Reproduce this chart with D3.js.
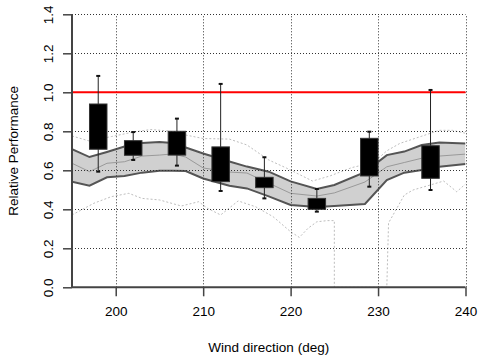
<!DOCTYPE html>
<html>
<head>
<meta charset="utf-8">
<script src="https://cdn.jsdelivr.net/npm/d3@7"></script>
<style>
	html, body { margin: 0; padding: 0; background: #fff; }
	svg { display: block; font-family: "Liberation Sans", Arial, sans-serif; }
</style>
</head>
<body>
<svg id="chart" width="480" height="360"></svg>
<script>
// ------------------------
// Data
// ------------------------
const xTicks = [ 200, 210, 220, 230, 240 ];
const yTicks = [ 0, 0.2, 0.4, 0.6, 0.8, 1.0, 1.2, 1.4 ];

// grey band: upper / lower quantile lines and the middle line
const bandDeg = [ 195, 197, 199, 201, 203, 205, 206.5, 208, 210, 213, 215, 217.5, 220, 223, 225, 228.5, 231, 233, 235, 237, 240 ];
const bandUpper = [ 0.708, 0.668, 0.694, 0.722, 0.740, 0.745, 0.740, 0.717, 0.686, 0.645, 0.619, 0.593, 0.543, 0.504, 0.525, 0.591, 0.678, 0.696, 0.730, 0.742, 0.737 ];
const bandLower = [ 0.542, 0.521, 0.564, 0.571, 0.588, 0.598, 0.598, 0.596, 0.558, 0.521, 0.507, 0.466, 0.422, 0.412, 0.417, 0.427, 0.550, 0.588, 0.602, 0.618, 0.632 ];
const bandMid = [ 0.636, 0.593, 0.636, 0.644, 0.673, 0.678, 0.684, 0.668, 0.612, 0.591, 0.586, 0.534, 0.482, 0.468, 0.484, 0.540, 0.618, 0.640, 0.662, 0.673, 0.683 ];

// dotted envelope (max / min)
const maxDeg = [ 195, 197, 199.5, 202, 204, 206, 208, 210, 213, 215, 217.5, 219.5, 222.5, 224.5, 227, 229.5, 231, 232.5, 235, 237, 238.5, 240 ];
const maxVal = [ 0.776, 0.75, 0.773, 0.796, 0.809, 0.802, 0.781, 0.763, 0.760, 0.730, 0.653, 0.612, 0.545, 0.571, 0.614, 0.640, 0.700, 0.738, 0.775, 0.805, 0.805, 0.790 ];
const minDeg = [ 195, 197.5, 199.5, 201.5, 203, 205, 207.5, 209.5, 210.5, 212, 214, 216, 218, 220, 221, 222, 223, 224.2, 225, 225, 231, 231.2, 233, 234, 236, 237.5, 239, 240 ];
const minVal = [ 0.371, 0.431, 0.465, 0.482, 0.456, 0.448, 0.417, 0.439, 0.405, 0.371, 0.443, 0.413, 0.362, 0.285, 0.256, 0.303, 0.336, 0.342, 0.342, 0, 0, 0.33, 0.473, 0.499, 0.525, 0.545, 0.49, 0.53 ];

// boxes
const boxDeg = [ 198, 202, 207, 212, 217, 223, 229, 236 ];
const boxQ1 = [ 0.708, 0.677, 0.678, 0.542, 0.511, 0.400, 0.571, 0.559 ];
const boxQ3 = [ 0.940, 0.752, 0.800, 0.720, 0.564, 0.456, 0.764, 0.726 ];
const whiskerLo = [ 0.593, 0.653, 0.624, 0.494, 0.456, 0.388, 0.516, 0.499 ];
const whiskerHi = [ 1.084, 0.796, 0.865, 1.043, 0.667, 0.504, 0.798, 1.012 ];

const refLine = 1.0;

// ------------------------
const margin = { top: 14.3, right: 14.5, bottom: 72.7, left: 72 };
const W = 480;
const H = 360;

render( '#chart' );

function render( ref ) {
	const svg = d3.select( ref );
	svg.selectAll( '*' ).remove();

	const x = d3.scaleLinear()
		.domain( [ 195, 240 ] )
		.range( [ margin.left, W - margin.right ] );
	const y = d3.scaleLinear()
		.domain( [ 0, 1.4 ] )
		.range( [ H - margin.bottom, margin.top ] );

	svg.append( 'defs' ).append( 'clipPath' )
		.attr( 'id', 'plot-clip' )
		.append( 'rect' )
		.attr( 'x', x.range()[ 0 ] )
		.attr( 'y', y.range()[ 1 ] )
		.attr( 'width', x.range()[ 1 ] - x.range()[ 0 ] )
		.attr( 'height', y.range()[ 0 ] - y.range()[ 1 ] );

	const plot = svg.append( 'g' ).attr( 'clip-path', 'url(#plot-clip)' );

	plot.call( renderEnvelope, x, y );
	plot.call( renderBand, x, y );
	svg.call( renderGrid, x, y );
	svg.call( renderRefLine, x, y );
	svg.call( renderBoxes, x, y );
	svg.call( renderAxes, x, y );
}

function renderEnvelope( g, x, y ) {
	const line = d3.line().x( d => x( d[ 0 ] ) ).y( d => y( d[ 1 ] ) );
	const series = [
		d3.zip( maxDeg, maxVal ),
		d3.zip( minDeg, minVal ),
	];
	g.selectAll( 'path.env' )
		.data( series )
		.join( 'path' )
		.attr( 'class', 'env' )
		.attr( 'd', line )
		.attr( 'fill', 'none' )
		.attr( 'stroke', '#bdbdbd' )
		.attr( 'stroke-width', 1 )
		.attr( 'stroke-dasharray', '2,2' );
}

function renderBand( g, x, y ) {
	const pts = bandDeg.map( ( d, i ) => ( { deg: d, lo: bandLower[ i ], hi: bandUpper[ i ], mid: bandMid[ i ] } ) );

	const area = d3.area()
		.x( d => x( d.deg ) )
		.y0( d => y( d.lo ) )
		.y1( d => y( d.hi ) );

	g.append( 'path' )
		.datum( pts )
		.attr( 'd', area )
		.attr( 'fill', '#d0d0d0' );

	const lineOf = key => d3.line().x( d => x( d.deg ) ).y( d => y( d[ key ] ) );

	g.append( 'path' )
		.datum( pts )
		.attr( 'd', lineOf( 'mid' ) )
		.attr( 'fill', 'none' )
		.attr( 'stroke', '#999' )
		.attr( 'stroke-width', 1 );

	[ 'hi', 'lo' ].forEach( key => {
		g.append( 'path' )
			.datum( pts )
			.attr( 'd', lineOf( key ) )
			.attr( 'fill', 'none' )
			.attr( 'stroke', '#555' )
			.attr( 'stroke-width', 2 );
	} );
}

function renderGrid( svg, x, y ) {
	const grid = svg.append( 'g' )
		.attr( 'stroke', '#333' )
		.attr( 'stroke-width', 1 )
		.attr( 'stroke-dasharray', '1,2' );

	grid.selectAll( 'line.vx' )
		.data( xTicks )
		.join( 'line' )
		.attr( 'class', 'vx' )
		.attr( 'x1', d => Math.round( x( d ) ) + 0.5 )
		.attr( 'x2', d => Math.round( x( d ) ) + 0.5 )
		.attr( 'y1', y.range()[ 0 ] )
		.attr( 'y2', y.range()[ 1 ] );

	grid.selectAll( 'line.hy' )
		.data( yTicks.filter( d => d > 0 ) )
		.join( 'line' )
		.attr( 'class', 'hy' )
		.attr( 'x1', x.range()[ 0 ] )
		.attr( 'x2', x.range()[ 1 ] )
		.attr( 'y1', d => Math.round( y( d ) ) + 0.5 )
		.attr( 'y2', d => Math.round( y( d ) ) + 0.5 );
}

function renderRefLine( svg, x, y ) {
	svg.append( 'line' )
		.attr( 'x1', x.range()[ 0 ] )
		.attr( 'x2', x.range()[ 1 ] )
		.attr( 'y1', y( refLine ) )
		.attr( 'y2', y( refLine ) )
		.attr( 'stroke', '#ff0000' )
		.attr( 'stroke-width', 2 );
}

function renderBoxes( svg, x, y ) {
	const boxes = boxDeg.map( ( d, i ) => ( {
		deg: d, q1: boxQ1[ i ], q3: boxQ3[ i ], lo: whiskerLo[ i ], hi: whiskerHi[ i ],
	} ) );

	const g = svg.append( 'g' );

	g.selectAll( 'line.whisker' )
		.data( boxes )
		.join( 'line' )
		.attr( 'class', 'whisker' )
		.attr( 'x1', d => x( d.deg ) )
		.attr( 'x2', d => x( d.deg ) )
		.attr( 'y1', d => y( d.lo ) )
		.attr( 'y2', d => y( d.hi ) )
		.attr( 'stroke', '#222' )
		.attr( 'stroke-width', 1 );

	// small caps on the whisker ends
	const caps = boxes.flatMap( d => [ { deg: d.deg, v: d.lo }, { deg: d.deg, v: d.hi } ] );
	g.selectAll( 'line.cap' )
		.data( caps )
		.join( 'line' )
		.attr( 'class', 'cap' )
		.attr( 'x1', d => x( d.deg ) - 2 )
		.attr( 'x2', d => x( d.deg ) + 2 )
		.attr( 'y1', d => y( d.v ) )
		.attr( 'y2', d => y( d.v ) )
		.attr( 'stroke', '#111' )
		.attr( 'stroke-width', 2 );

	g.selectAll( 'rect' )
		.data( boxes )
		.join( 'rect' )
		.attr( 'x', d => x( d.deg - 1 ) )
		.attr( 'width', d => x( d.deg + 1 ) - x( d.deg - 1 ) )
		.attr( 'y', d => y( d.q3 ) )
		.attr( 'height', d => y( d.q1 ) - y( d.q3 ) )
		.attr( 'fill', '#000' )
		.attr( 'stroke', '#333' )
		.attr( 'stroke-width', 1 );
}

function renderAxes( svg, x, y ) {
	const axisColor = '#444';
	const bottom = y.range()[ 0 ];
	const left = x.range()[ 0 ];

	const xAxis = d3.axisBottom( x )
		.tickValues( xTicks )
		.tickSize( 9 )
		.tickPadding( 10 )
		.tickSizeOuter( 0 );

	const gx = svg.append( 'g' )
		.attr( 'transform', `translate(0, ${ bottom })` )
		.call( xAxis );
	gx.select( '.domain' ).remove();
	gx.selectAll( 'line' ).attr( 'stroke', axisColor ).attr( 'stroke-width', 1.5 );
	gx.selectAll( 'text' )
		.attr( 'fill', '#000' )
		.style( 'font-size', '13.5px' );

	const yAxis = d3.axisLeft( y )
		.tickValues( yTicks )
		.tickFormat( d3.format( '.1f' ) )
		.tickSize( 9 );

	const gy = svg.append( 'g' )
		.attr( 'transform', `translate(${ left }, 0)` )
		.call( yAxis );
	gy.select( '.domain' ).remove();
	gy.selectAll( 'line' ).attr( 'stroke', axisColor ).attr( 'stroke-width', 1.5 );
	gy.selectAll( 'text' )
		.attr( 'x', null )
		.attr( 'dy', '0.35em' )
		.attr( 'transform', 'translate(-24, 0) rotate(-90)' )
		.attr( 'text-anchor', 'middle' )
		.attr( 'fill', '#000' )
		.style( 'font-size', '13.5px' );

	// axis lines
	svg.append( 'line' )
		.attr( 'x1', left )
		.attr( 'x2', x.range()[ 1 ] )
		.attr( 'y1', bottom )
		.attr( 'y2', bottom )
		.attr( 'stroke', axisColor )
		.attr( 'stroke-width', 2 );
	svg.append( 'line' )
		.attr( 'x1', left )
		.attr( 'x2', left )
		.attr( 'y1', y.range()[ 1 ] )
		.attr( 'y2', bottom )
		.attr( 'stroke', axisColor )
		.attr( 'stroke-width', 2 );

	// titles
	svg.append( 'text' )
		.attr( 'x', ( x.range()[ 0 ] + x.range()[ 1 ] ) / 2 )
		.attr( 'y', 347 )
		.attr( 'dy', '0.35em' )
		.attr( 'text-anchor', 'middle' )
		.style( 'font-size', '13.5px' )
		.text( 'Wind direction (deg)' );

	svg.append( 'text' )
		.attr( 'transform', `translate(13, ${ ( y.range()[ 0 ] + y.range()[ 1 ] ) / 2 }) rotate(-90)` )
		.attr( 'dy', '0.35em' )
		.attr( 'text-anchor', 'middle' )
		.style( 'font-size', '13.5px' )
		.text( 'Relative Performance' );
}
</script>
</body>
</html>
